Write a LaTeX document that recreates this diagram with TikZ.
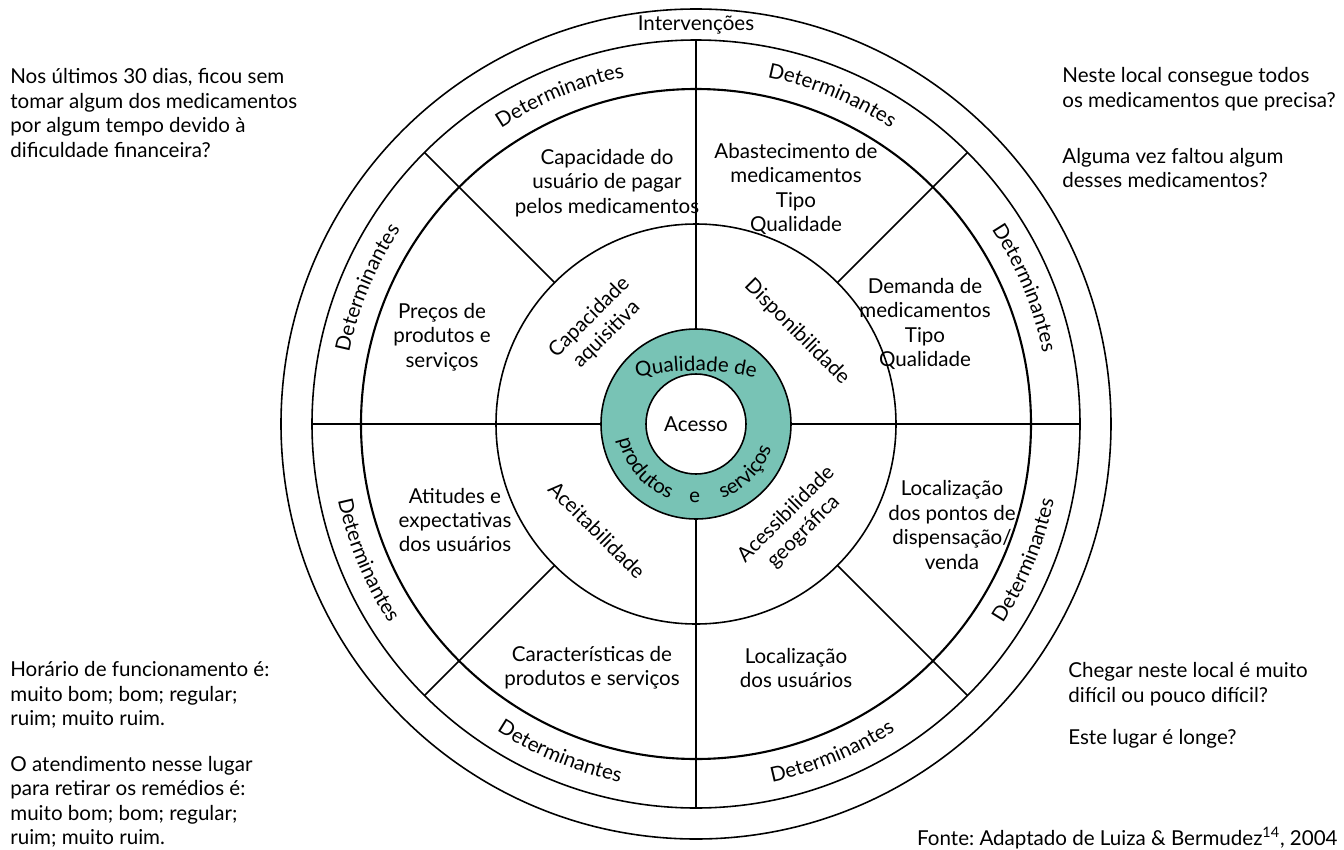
\documentclass[tikz,border=0pt]{standalone}
\usepackage{fontspec}
\setmainfont{Lato}
\usetikzlibrary{decorations.text}
\definecolor{tealring}{RGB}{120,195,181}
\frenchspacing

\begin{document}
\begin{tikzpicture}[x=0.02cm, y=0.02cm,
    ring/.style={line width=0.9pt},
    lbl/.style={align=center, inner sep=0pt},
    side/.style={align=left, anchor=west, inner sep=0pt},
    arctext/.style={decorate, decoration={text along path, text={#1}, text align=center}}]
    \fontsize{11.7pt}{13.9pt}\selectfont
    \useasboundingbox (-696,-425) rectangle (648,424);
    % rings
    \draw [ring] (0,0) circle (415);
    \draw [ring] (0,0) circle (384);
    \draw [ring, line width=1.2pt] (0,0) circle (335);
    \draw [ring] (0,0) circle (200);
    \filldraw [ring, fill=tealring] (0,0) circle (95);
    \filldraw [ring, fill=white] (0,0) circle (50);
    % spokes
    \draw [ring] (90:95) -- (90:384);
    \draw [ring] (0:95) -- (0:384);
    \draw [ring] (180:95) -- (180:384);
    \draw [ring] (270:95) -- (270:384);
    \draw [ring] (45:200) -- (45:384);
    \draw [ring] (135:200) -- (135:384);
    \draw [ring] (225:200) -- (225:384);
    \draw [ring] (315:200) -- (315:384);
    % Determinantes ring
    \path [arctext=Determinantes] (44.5:354) arc[start angle=44.5, end angle=0.5, radius=354];
    \path [arctext=Determinantes] (89.5:354) arc[start angle=89.5, end angle=45.5, radius=354];
    \path [arctext=Determinantes] (134.5:354) arc[start angle=134.5, end angle=90.5, radius=354];
    \path [arctext=Determinantes] (179.5:354) arc[start angle=179.5, end angle=135.5, radius=354];
    \path [arctext=Determinantes] (180.5:366) arc[start angle=180.5, end angle=224.5, radius=366];
    \path [arctext=Determinantes] (225.5:366) arc[start angle=225.5, end angle=269.5, radius=366];
    \path [arctext=Determinantes] (270.5:366) arc[start angle=270.5, end angle=314.5, radius=366];
    \path [arctext=Determinantes] (315.5:366) arc[start angle=315.5, end angle=359.5, radius=366];
    \node (interv) at (0,399) {Intervenções};
    % outer sectors
    \node [lbl] (capusu) at (-89,241) {Capacidade do\\usuário de pagar\\pelos medicamentos};
    \node [lbl] (abast) at (100,235) {Abastecimento de\\medicamentos\\Tipo\\Qualidade};
    \node [lbl] (demanda) at (229,100) {Demanda de\\medicamentos\\Tipo\\Qualidade};
    \node [lbl] (precos) at (-254,87) {Preços de\\produtos e\\serviços};
    \node [lbl] (atitudes) at (-241,-96) {Atitudes e\\expectativas\\dos usuários};
    \node [lbl] (locpontos) at (256,-101) {Localização\\dos pontos de\\dispensação/\\venda};
    \node [lbl] (caract) at (-104,-244) {Características de\\produtos e serviços};
    \node [lbl] (locusu) at (100,-244) {Localização\\dos usuários};
    % inner sectors
    \node [lbl, rotate=45] (capaq) at (-98,98) {Capacidade\\aquisitiva};
    \node [lbl, rotate=-45] (dispon) at (101,92) {Disponibilidade};
    \node [lbl, rotate=-45] (aceit) at (-99,-106) {Aceitabilidade};
    \node [lbl, rotate=45] (acessib) at (99,-99) {Acessibilidade\\geográfica};
    % centre
    \path [arctext={Qualidade de}] (-73.1,42.1) arc[start angle=107, end angle=73, radius=250];
    \path [arctext=produtos] (180:79) arc[start angle=180, end angle=262, radius=79];
    \path [arctext=e] (255:79) arc[start angle=255, end angle=283, radius=79];
    \path [arctext=serviços] (275:79) arc[start angle=275, end angle=357, radius=79];
    \node (acesso) at (0,0) {Acesso};
    % questions
    \node [side] (qfin) at (-686,311) {Nos últimos 30 dias, ficou sem\\tomar algum dos medicamentos\\por algum tempo devido à\\dificuldade financeira?};
    \node [side] (qtodos) at (366,335) {Neste local consegue todos\\os medicamentos que precisa?};
    \node [side] (qfalta) at (366,256) {Alguma vez faltou algum\\desses medicamentos?};
    \node [side] (qhorario) at (-686,-271) {Horário de funcionamento é:\\muito bom; bom; regular;\\ruim; muito ruim.};
    \node [side] (qatend) at (-686,-378) {O atendimento nesse lugar\\para retirar os remédios é:\\muito bom; bom; regular;\\ruim; muito ruim.};
    \node [side] (qchegar) at (372,-260) {Chegar neste local é muito\\difícil ou pouco difícil?};
    \node [side] (qlonge) at (372,-315) {Este lugar é longe?};
    \node [anchor=east, inner sep=0pt] (fonte) at (642,-414) {Fonte: Adaptado de Luiza \& Bermudez\textsuperscript{14}, 2004};
\end{tikzpicture}
\end{document}
